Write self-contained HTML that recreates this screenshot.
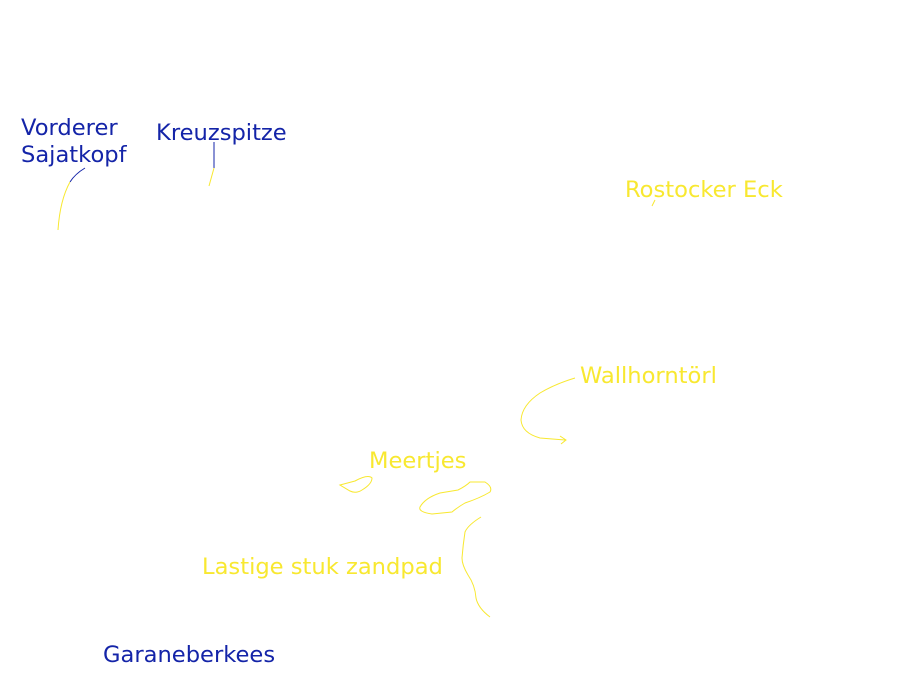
<!DOCTYPE html>
<html><head><meta charset="utf-8"><style>
html,body{margin:0;padding:0;background:#fff;width:900px;height:675px;overflow:hidden}
svg{display:block}
text{font-family:"DejaVu Sans","Liberation Sans",sans-serif;font-size:22.6px}
.b{fill:#1424a8}.y{fill:#f8e830}
</style></head><body>
<svg width="900" height="675" viewBox="0 0 900 675">
<g fill="none" stroke-width="1">
<path d="M85,168 Q75,174 70,182" stroke="#1424a8"/>
<path d="M70,182 Q60,200 58,230" stroke="#f8e830"/>
<path d="M214,142 L214,168" stroke="#1424a8"/>
<path d="M214,168 L209,186" stroke="#f8e830"/>
<path d="M655,200 L652,206" stroke="#f8e830"/>
<path d="M575,378 Q555,384 540,393 Q522,405 521,420 Q522,433 540,438 L565,440 M560,436 L566,440 L561,444" stroke="#f8e830"/>
<path d="M340,485 L355,481 Q368,474 372,478 Q372,484 362,490 Q356,494 350,491 Z" stroke="#f8e830"/>
<path d="M420,507 Q425,498 440,493 L458,490 Q466,486 470,482 L485,482 Q493,487 490,492 Q480,498 465,503 Q458,507 452,512 L432,514 Q418,512 420,507 Z" stroke="#f8e830"/>
<path d="M481,517 Q468,525 465,532 Q463,545 462,558 Q462,565 468,575 Q475,585 476,598 Q478,608 490,617" stroke="#f8e830"/>
</g>
<text class="b" x="21" y="135">Vorderer</text>
<text class="b" x="21" y="162">Sajatkopf</text>
<text class="b" x="156" y="140">Kreuzspitze</text>
<text class="y" x="625" y="197">Rostocker Eck</text>
<text class="y" x="580" y="383">Wallhorntörl</text>
<text class="y" x="369" y="468">Meertjes</text>
<text class="y" x="202" y="574">Lastige stuk zandpad</text>
<text class="b" x="103" y="662">Garaneberkees</text>
</svg>
</body></html>
